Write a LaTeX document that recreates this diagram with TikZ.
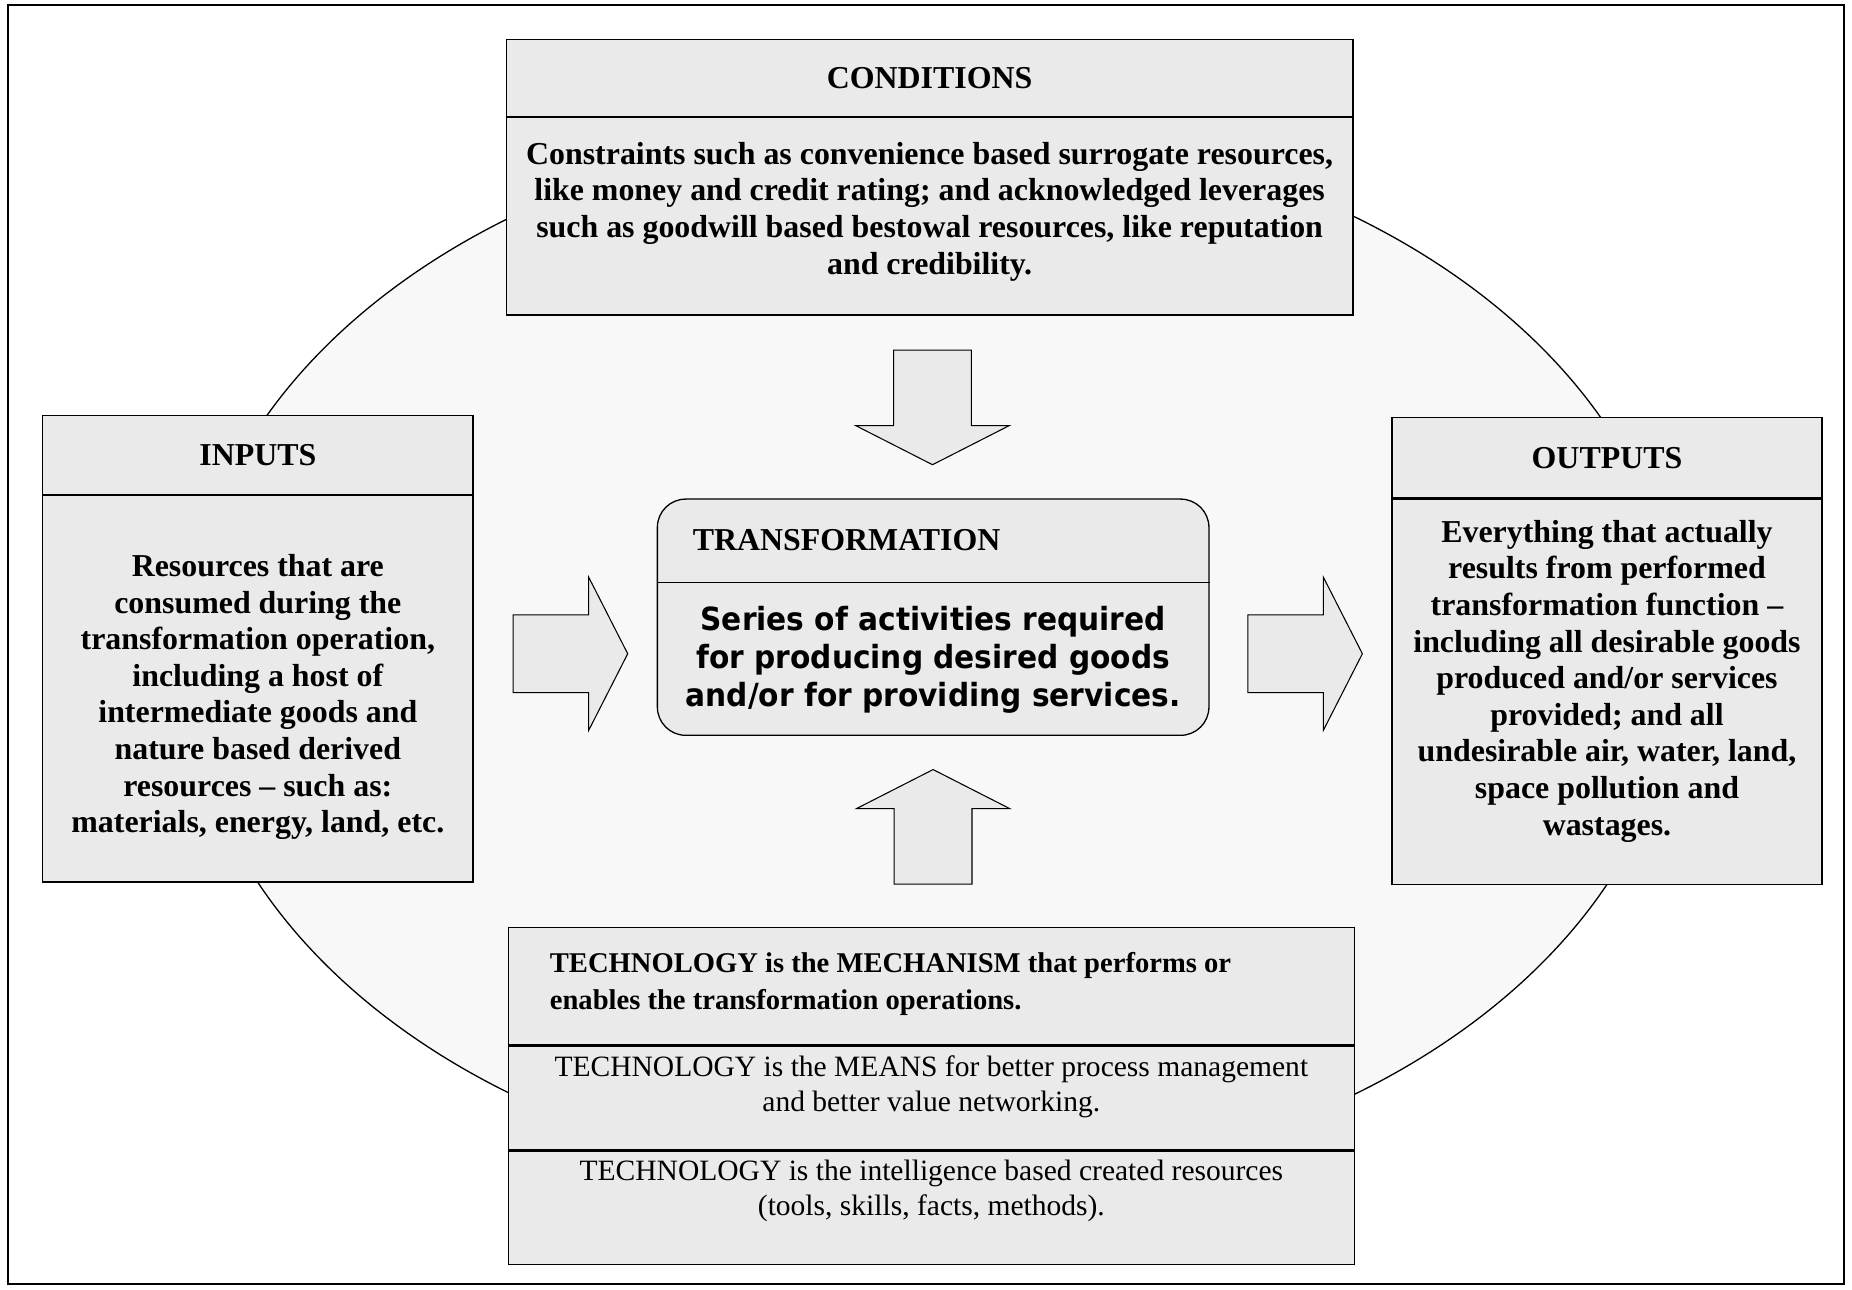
\documentclass[tikz,border=0pt]{standalone}
\usepackage{fontspec}
\setmainfont{Liberation Serif}
\newfontfamily\tahoma[FakeStretch=0.93]{DejaVu Sans}
\usetikzlibrary{positioning,shapes.arrows}
\definecolor{boxgray}{HTML}{EAEAEA}
\definecolor{ovalgray}{HTML}{F8F8F8}

\begin{document}
\begin{tikzpicture}
    [x=1pt, y=-1pt,
    line width=1.1pt,
    box/.style={draw, fill=boxgray, inner sep=0pt, align=center, anchor=north west},
    head/.style={box, font=\fontsize{27}{31}\selectfont\bfseries},
    body/.style={draw, fill=boxgray, inner sep=0pt, below=0pt of #1},
    bf/.style={inner sep=0pt, align=center, font=\fontsize{27}{31}\selectfont\bfseries},
    rm/.style={inner sep=0pt, align=center, font=\fontsize{25}{29}\selectfont},
    barrow/.style={single arrow, draw, fill=boxgray, line width=0.9pt, inner xsep=0pt, inner ysep=32.5pt,
        single arrow head extend=32pt, single arrow tip angle=126, minimum height=97pt, anchor=tail},
    vbarrow/.style={barrow, inner xsep=32.5pt, inner ysep=0pt}]

    \useasboundingbox (0,0) rectangle (1568,1092);
    \draw[line width=1.4pt] (7,4) rectangle (1561,1087);

    %% oval in the back
    \draw[fill=ovalgray] (790,555) ellipse [x radius=632pt, y radius=450pt];

    %% conditions
    \node[head, minimum width=717, minimum height=65] (C1) at (428,33) {CONDITIONS};
    \node[body=C1, minimum width=717, minimum height=167] (C2) {};
    \node[bf, yshift=4] (C3) at (C2) {Constraints such as convenience based surrogate resources,\\
        like money and credit rating; and acknowledged leverages\\
        such as goodwill based bestowal resources, like reputation\\
        and credibility.};

    %% inputs
    \node[head, minimum width=364.5, minimum height=67] (I1) at (35.5,351) {INPUTS};
    \node[body=I1, minimum width=364.5, minimum height=327] (I2) {};
    \node[bf, yshift=-7] (I3) at (I2) {Resources that are\\
        consumed during the\\
        transformation operation,\\
        including a host of\\
        intermediate goods and\\
        nature based derived\\
        resources -- such as:\\
        materials, energy, land, etc.};

    %% outputs
    \node[head, minimum width=364, minimum height=68] (O1) at (1178,353) {OUTPUTS};
    \node[body=O1, minimum width=364, minimum height=326] (O2) {};
    \node[bf, yshift=9] (O3) at (O2) {Everything that actually\\
        results from performed\\
        transformation function --\\
        including all desirable goods\\
        produced and/or services\\
        provided; and all\\
        undesirable air, water, land,\\
        space pollution and\\
        wastages.};

    %% transformation
    \node[box, rounded corners=24, minimum width=467, minimum height=200] (T) at (556,422) {};
    \node[anchor=north west, inner sep=0pt, text width=407, minimum height=70, bf, align=left] (T1) at (556,422) {\hspace*{30pt}TRANSFORMATION};
    \draw (T.west |- T1.south) -- (T.east |- T1.south);
    \node[inner sep=0pt, minimum width=467, minimum height=130, align=center, below=0pt of T1.south -| T.center,
        font=\fontsize{27}{32.5}\selectfont\tahoma\bfseries] (T2) {Series of activities required\\
        for producing desired goods\\
        and/or for providing services.};

    %% technology
    \node[box, minimum width=716, minimum height=99] (M1) at (430,785) {};
    \node[inner sep=0pt, anchor=west, align=left, yshift=2, font=\fontsize{24.2}{31}\selectfont\bfseries] (M4) at ([xshift=35]M1.west)
        {TECHNOLOGY is the MECHANISM that performs or\\ enables the transformation operations.};
    \node[body=M1, minimum width=716, minimum height=88] (M2) {};
    \node[rm, yshift=9.5] (M5) at (M2) {TECHNOLOGY is the MEANS for better process management\\
        and better value networking.};
    \node[body=M2, minimum width=716, minimum height=96] (M3) {};
    \node[rm, yshift=14.5] (M6) at (M3) {TECHNOLOGY is the intelligence based created resources\\
        (tools, skills, facts, methods).};

    %% block arrows
    \node[barrow] (A1) at (434,553.5) {};
    \node[barrow] (A2) at (1056,553.5) {};
    \node[vbarrow, shape border rotate=270] (A3) at (789.5,296) {};
    \node[vbarrow, shape border rotate=90] (A4) at (790,749) {};
\end{tikzpicture}
\end{document}
